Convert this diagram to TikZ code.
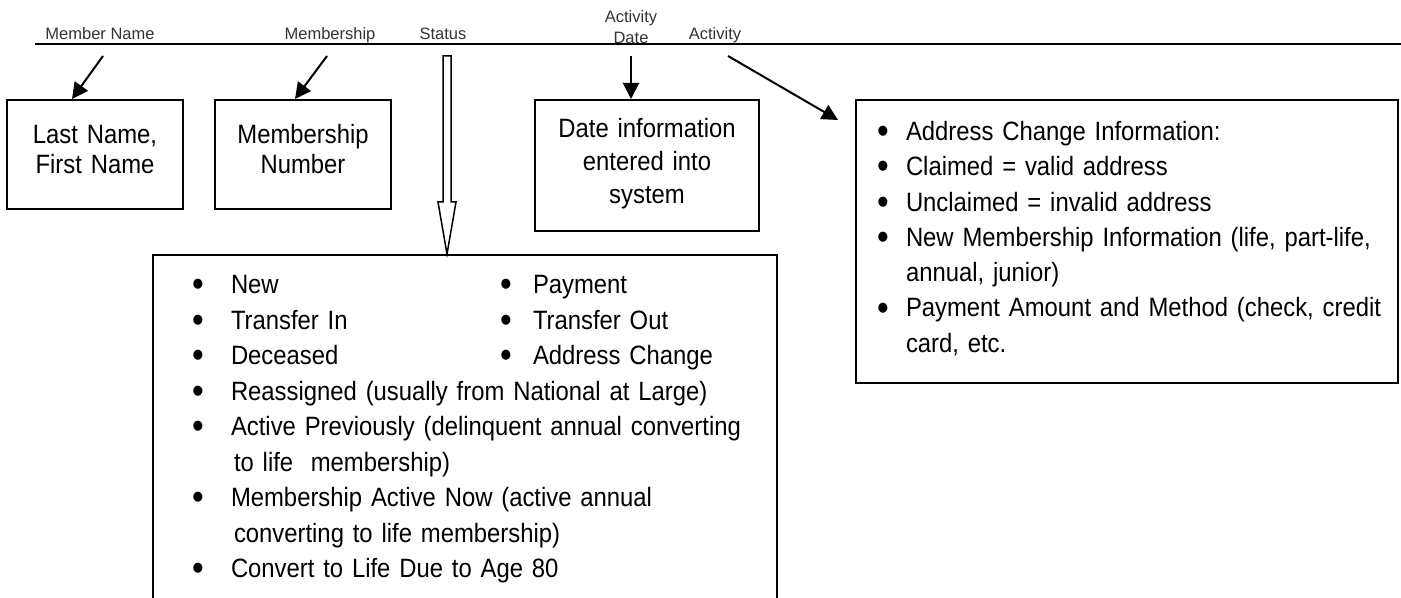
\documentclass[tikz,border=0pt]{standalone}
\usepackage{fontspec}
\setmainfont{Liberation Sans}[FakeStretch=0.9,WordSpace=0.8]
\newfontfamily\headfont{Liberation Sans}
\usetikzlibrary{calc,arrows.meta}

% bullet line: offset of bullet centre, gap to text, text
\newcommand{\bigbullet}{\raisebox{-1.6pt}{\scalebox{1.4}{\textbullet}}}
\newcommand{\bul}[3]{\hspace*{#1}\makebox[0pt]{\bigbullet}\hspace*{#2}#3}

\tikzset{
    head/.style={font=\headfont\fontsize{8.25}{10.5}\selectfont, text=black!80, inner sep=0pt},
    infobox/.style={draw, line width=1pt, inner sep=0pt, align=center},
    listbox/.style={draw, line width=1pt, inner sep=0pt, align=left, anchor=north west},
    pointer/.style={line width=1pt, -{Triangle[length=8pt,width=8pt]}},
}

\begin{document}
\begin{tikzpicture}[x=0.5pt,y=-0.5pt]
    \useasboundingbox (0,0) rectangle (1401,598);
    \clip (0,0) rectangle (1401,598);

    %%% Header %%%

    \draw[line width=0.75pt] (35,44) -- (1401,44);
    \node[head, anchor=base] (mname) at (100,40) {Member Name};
    \node[head, anchor=base] (mship) at (330,40) {Membership};
    \node[head, anchor=base] (status) at (443,40) {Status};
    \node[head, anchor=south, align=center] (actdate) at (631,44) {Activity\\Date};
    \node[head, anchor=base] (activity) at (715,40) {Activity};

    %%% Boxes %%%

    \node[infobox, anchor=north, text width=88pt, text height=22pt, text depth=32.5pt,
        font=\fontsize{13.25}{15}\selectfont] (lname) at (95,99)
        {Last Name,\\First Name};
    \node[infobox, anchor=north, text width=88pt, text height=22pt, text depth=32.5pt,
        font=\fontsize{13.25}{15}\selectfont] (mbox) at (303,99)
        {Membership\\Number};
    \node[infobox, anchor=north, text width=112pt, text height=19pt, text depth=46.5pt,
        font=\fontsize{13.25}{16.5}\selectfont] (datebox) at (647,99)
        {Date information\\entered into\\system};

    \node[listbox, text width=271pt, text height=20.25pt, text depth=121.25pt,
        font=\fontsize{13.25}{17.65}\selectfont] (actbox) at (855,99)
        {\bul{13.5pt}{11.5pt}{Address Change Information:}\\
         \bul{13.5pt}{11.5pt}{Claimed = valid address}\\
         \bul{13.5pt}{11.5pt}{Unclaimed = invalid address}\\
         \bul{13.5pt}{11.5pt}{New Membership Information (life, part-life,}\\
         \hspace*{25pt}annual, junior)\\
         \bul{13.5pt}{11.5pt}{Payment Amount and Method (check, credit}\\
         \hspace*{25pt}card, etc.};

    \node[listbox, text width=312pt, text height=19.25pt, text depth=170pt,
        font=\fontsize{13.25}{17.75}\selectfont] (stlist) at (152,254)
        {\bul{22.5pt}{16.5pt}{\makebox[137.5pt][l]{New}}\bul{0pt}{13.5pt}{Payment}\\
         \bul{22.5pt}{16.5pt}{\makebox[137.5pt][l]{Transfer In}}\bul{0pt}{13.5pt}{Transfer Out}\\
         \bul{22.5pt}{16.5pt}{\makebox[137.5pt][l]{Deceased}}\bul{0pt}{13.5pt}{Address Change}\\
         \bul{22.5pt}{16.5pt}{Reassigned (usually from National at Large)}\\
         \bul{22.5pt}{16.5pt}{Active Previously (delinquent annual converting}\\
         \hspace*{40.5pt}to life~ membership)\\
         \bul{22.5pt}{16.5pt}{Membership Active Now (active annual}\\
         \hspace*{40.5pt}converting to life membership)\\
         \bul{22.5pt}{16.5pt}{Convert to Life Due to Age 80}};

    %%% Arrows %%%

    \draw[pointer] ($(mname.base)+(3,16)$) -- ($(lname.north)+(-23,0)$);
    \draw[pointer] ($(mship.base)+(-3,16)$) -- ($(mbox.north)+(-8,0)$);
    \draw[pointer] ($(actdate.south)+(0,12)$) -- (datebox.north -| actdate.south);
    \draw[pointer] ($(activity.base)+(13,16)$) -- ($(actbox.north west)+(-17,21)$);

    % hollow arrow from Status
    \coordinate (sttop) at ($(status.base)+(4,16)$);
    \coordinate (sttip) at (stlist.north -| sttop);
    \draw[line width=0.75pt, fill=white] ($(sttop)+(-4,0)$) -- ($(sttop)+(4,0)$)
        -- ($(sttip)+(4,-52)$) -- ($(sttip)+(9,-52)$) -- (sttip)
        -- ($(sttip)+(-9,-52)$) -- ($(sttip)+(-4,-52)$) -- cycle;

\end{tikzpicture}
\end{document}
